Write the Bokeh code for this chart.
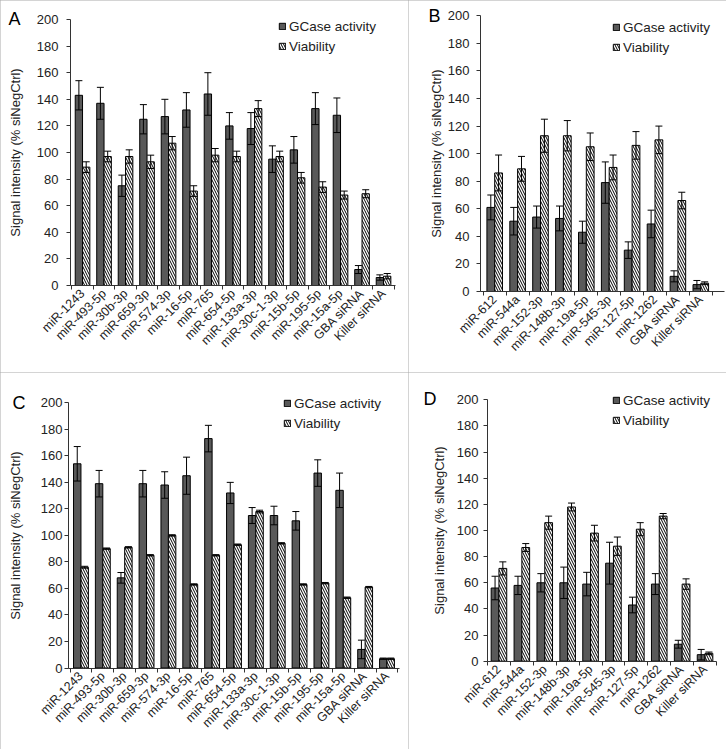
import numpy as np
from bokeh.plotting import figure
from bokeh.models import Range1d, FixedTicker, Whisker, TeeHead, Label, ColumnDataSource
from bokeh.layouts import column, row
from bokeh.embed import file_html
from bokeh.resources import INLINE

# ---------------- data ----------------
cats_ac = ["miR-1243", "miR-493-5p", "miR-30b-3p", "miR-659-3p", "miR-574-3p", "miR-16-5p",
           "miR-765", "miR-654-5p", "miR-133a-3p", "miR-30c-1-3p", "miR-15b-5p", "miR-195-5p",
           "miR-15a-5p", "GBA siRNA", "Killer siRNA"]
cats_bd = ["miR-612", "miR-544a", "miR-152-3p", "miR-148b-3p", "miR-19a-5p", "miR-545-3p",
           "miR-127-5p", "miR-1262", "GBA siRNA", "Killer siRNA"]

a_gcase = [143, 137, 75, 125, 127, 132, 144, 120, 118, 95, 102, 133, 128, 12, 6]
a_gcase_err = [11, 12, 8, 11, 13, 13, 16, 10, 12, 10, 10, 12, 13, 3, 2]
a_viab = [89, 97, 97, 93, 107, 71, 98, 97, 133, 97, 81, 74, 68, 69, 7]
a_viab_err = [4, 4, 5, 5, 5, 4, 5, 4, 6, 4, 4, 4, 3, 3, 2]

b_gcase = [61, 51, 54, 53, 43, 79, 30, 49, 11, 5]
b_gcase_err = [9, 10, 8, 9, 8, 15, 6, 10, 4, 3]
b_viab = [86, 89, 113, 113, 105, 90, 106, 110, 66, 6]
b_viab_err = [13, 9, 12, 11, 10, 9, 10, 10, 6, 1]

c_gcase = [154, 139, 68, 139, 138, 145, 173, 132, 115, 115, 111, 147, 134, 14, 7]
c_gcase_err = [13, 10, 4, 10, 10, 14, 10, 8, 6, 7, 7, 10, 13, 7, 0.5]
c_viab = [76, 90, 91, 85, 100, 63, 85, 93, 118, 94, 63, 64, 53, 61, 7]
c_viab_err = [0.7, 0.5, 0.5, 0.5, 0.5, 0.5, 0.5, 0.5, 1, 0.5, 0.5, 0.5, 0.5, 0.5, 0.5]

d_gcase = [56, 58, 60, 60, 59, 75, 43, 59, 13, 5]
d_gcase_err = [9, 7, 7, 12, 9, 16, 6, 8, 3, 4]
d_viab = [71, 87, 106, 118, 98, 88, 101, 111, 59, 6]
d_viab_err = [5, 3, 5, 3, 6, 7, 5, 2, 4, 1]

y_ticks = list(range(0, 201, 20))
y_max = 200
y_label = "Signal intensity (% siNegCtrl)"
series_names = ["GCase activity", "Viability"]

FONT = "Liberation Sans"
TXT = "#222222"
BW = 0.34


def panel(letter, cats, g, ge, v, ve, W, H, L, s, a0, top200, y0, x_line_end,
          legend_xy, letter_xy, tick_standoff, label_standoff):
    """W,H: canvas size; L: canvas x of y-axis; s: px per category;
    a0: data x of y-axis; top200/y0: canvas y of the 200 and 0 ticks."""
    n = len(cats)
    idx = np.arange(1, n + 1)
    g = np.array(g, float); ge = np.array(ge, float)
    v = np.array(v, float); ve = np.array(ve, float)
    x0 = a0 - L / s
    x1 = a0 + (W - L) / s
    k = (y0 - top200) / y_max          # px per unit
    y1 = y_max + top200 / k
    ym = -(H - y0) / k
    p = figure(width=W, height=H, output_backend="svg", toolbar_location=None,
               x_range=Range1d(x0, x1), y_range=Range1d(ym, y1))
    p.min_border_left = 0
    p.min_border_right = 0
    p.min_border_top = 0
    p.min_border_bottom = 0
    p.outline_line_color = None
    p.xgrid.visible = False
    p.ygrid.visible = False
    p.background_fill_color = "white"
    p.border_fill_color = "white"
    p.styles = {"outline": "1px solid #a8a8a8", "outline-offset": "-1px"}

    sg = ColumnDataSource(dict(x=idx - BW / 2, top=g, lo=g - ge, hi=g + ge))
    sv = ColumnDataSource(dict(x=idx + BW / 2, top=v, lo=v - ve, hi=v + ve))
    p.vbar(x="x", top="top", bottom=0, width=BW, source=sg, fill_color="#595959",
           line_color="black", line_width=1, legend_label=series_names[0])
    p.vbar(x="x", top="top", bottom=0, width=BW, source=sv, fill_color="white",
           hatch_pattern="\\", hatch_color="black", hatch_scale=5, hatch_weight=1,
           line_color="black", line_width=1, legend_label=series_names[1])
    for src in (sg, sv):
        w = Whisker(base="x", upper="hi", lower="lo", source=src, dimension="height",
                    line_color="black", line_width=1, level="overlay",
                    upper_head=TeeHead(size=7, line_color="black", line_width=1),
                    lower_head=TeeHead(size=7, line_color="black", line_width=1))
        p.add_layout(w)

    # x axis at y = 0: labels at category centres, boundary ticks as minor ticks
    p.xaxis.fixed_location = 0
    p.xaxis.ticker = FixedTicker(ticks=list(idx), minor_ticks=list(np.arange(0.5, n + 1, 1.0)))
    p.xaxis.major_label_overrides = {int(i): c for i, c in zip(idx, cats)}
    p.xaxis.bounds = (a0, x_line_end)
    p.xaxis.major_tick_out = 0
    p.xaxis.major_tick_in = 0
    p.xaxis.minor_tick_out = 4
    p.xaxis.minor_tick_in = 0
    p.xaxis.major_label_orientation = np.pi / 4
    p.xaxis.major_label_standoff = 2
    p.xaxis.major_label_text_font = FONT
    p.xaxis.major_label_text_font_size = "12.5px"
    p.xaxis.major_label_text_color = TXT
    p.xaxis.axis_line_color = "#333333"
    p.xaxis.minor_tick_line_color = "#333333"

    # y axis at the left end of the category axis
    p.yaxis.fixed_location = a0
    p.yaxis.bounds = (0, y_max)
    p.yaxis.ticker = FixedTicker(ticks=y_ticks)
    p.yaxis.minor_tick_line_color = None
    p.yaxis.major_tick_out = 4
    p.yaxis.major_tick_in = 0
    p.yaxis.major_tick_line_color = "#333333"
    p.yaxis.axis_line_color = "#333333"
    p.yaxis.major_label_text_font = FONT
    p.yaxis.major_label_text_font_size = "13px"
    p.yaxis.major_label_text_color = TXT
    p.yaxis.major_label_standoff = tick_standoff
    p.yaxis.axis_label = y_label
    p.yaxis.axis_label_text_font = FONT
    p.yaxis.axis_label_text_font_size = "13px"
    p.yaxis.axis_label_text_font_style = "normal"
    p.yaxis.axis_label_text_color = TXT
    p.yaxis.axis_label_standoff = label_standoff

    lg = p.legend[0]
    lg.location = (legend_xy[0], legend_xy[1] + (H - y0))
    lg.border_line_color = None
    lg.background_fill_alpha = 0
    lg.label_text_font = FONT
    lg.label_text_font_size = "13.5px"
    lg.label_text_color = TXT
    lg.glyph_width = 8
    lg.glyph_height = 8
    lg.label_standoff = 3
    lg.label_height = 15
    lg.spacing = 5
    lg.padding = 0
    lg.margin = 0

    p.add_layout(Label(x=x0, y=y1, x_units="data", y_units="data", text=letter,
                       x_offset=letter_xy[0], y_offset=-letter_xy[1], text_align="left",
                       text_baseline="alphabetic", text_font=FONT, text_font_size="18px",
                       text_color="black"))
    return p


pA = panel("A", cats_ac, a_gcase, a_gcase_err, a_viab, a_viab_err,
           W=408, H=372, L=70, s=21.5, a0=0.44, top200=19, y0=285, x_line_end=15.55,
           legend_xy=(278, 231.5), letter_xy=(8, 18), tick_standoff=8, label_standoff=11)
pB = panel("B", cats_bd, b_gcase, b_gcase_err, b_viab, b_viab_err,
           W=318, H=372, L=72, s=22.9, a0=0.38, top200=15.3, y0=291, x_line_end=11.05,
           legend_xy=(204, 236.5), letter_xy=(20, 15), tick_standoff=7, label_standoff=1)
pC = panel("C", cats_ac, c_gcase, c_gcase_err, c_viab, c_viab_err,
           W=408, H=377, L=68, s=21.86, a0=0.43, top200=30.3, y0=295.5, x_line_end=15.55,
           legend_xy=(283, 237), letter_xy=(12, 30.5), tick_standoff=2, label_standoff=15)
pD = panel("D", cats_bd, d_gcase, d_gcase_err, d_viab, d_viab_err,
           W=318, H=377, L=79, s=22.9, a0=0.5, top200=27.3, y0=288.7, x_line_end=10.5,
           legend_xy=(204, 233), letter_xy=(15, 26), tick_standoff=5, label_standoff=7)

layout = column(row(pA, pB), row(pC, pD))
open("out.html", "w").write(file_html(layout, INLINE))
